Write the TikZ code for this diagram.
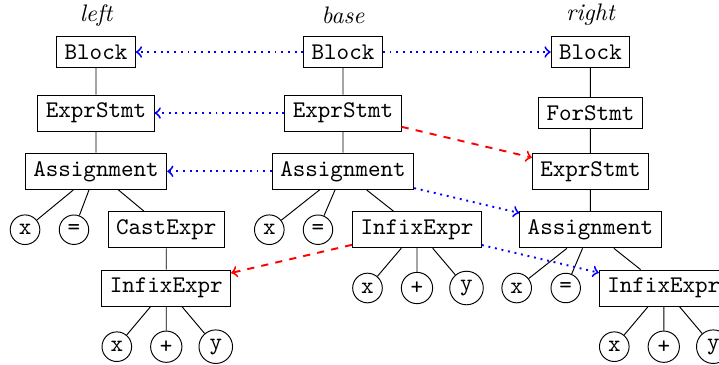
\documentclass[tikz,border=0pt]{standalone}

\begin{document}
\begin{tikzpicture}[
  ast/.style={draw,font=\ttfamily},
  leaf/.style={circle,draw,inner sep=2pt,font=\ttfamily},
  tag/.style={font=\itshape},
  same/.style={->,blue,thick,dotted},
  move/.style={->,red,thick,dashed}
]
  \clip (0,0) rectangle (10.573,-5.367);
  % left tree
  \node[tag] (lTag) at (1.412,-0.221) {left};
  \node[ast] (lBlock) at (1.412,-0.765) {Block};
  \node[ast] (lExpr) at (1.412,-1.662) {ExprStmt};
  \node[ast] (lAssign) at (1.412,-2.519) {Assignment};
  \node[leaf] (lX) at (0.368,-3.378) {x};
  \node[leaf] (lEq) at (1.088,-3.378) {=};
  \node[ast] (lCast) at (2.445,-3.378) {CastExpr};
  \node[ast] (lInfix) at (2.445,-4.235) {InfixExpr};
  \node[leaf] (lInfX) at (1.718,-5.098) {x};
  \node[leaf] (lPlus) at (2.445,-5.098) {+};
  \node[leaf] (lY) at (3.173,-5.098) {y};
  \draw (lBlock) -- (lExpr) (lExpr) -- (lAssign)
        (lAssign) -- (lX) (lAssign) -- (lEq) (lAssign) -- (lCast)
        (lCast) -- (lInfix)
        (lInfix) -- (lInfX) (lInfix) -- (lPlus) (lInfix) -- (lY);

  % base tree
  \node[tag] (bTag) at (5.044,-0.221) {base};
  \node[ast] (bBlock) at (5.044,-0.765) {Block};
  \node[ast] (bExpr) at (5.044,-1.662) {ExprStmt};
  \node[ast] (bAssign) at (5.044,-2.519) {Assignment};
  \node[leaf] (bX) at (3.960,-3.378) {x};
  \node[leaf] (bEq) at (4.676,-3.378) {=};
  \node[ast] (bInfix) at (6.132,-3.378) {InfixExpr};
  \node[leaf] (bInfX) at (5.404,-4.235) {x};
  \node[leaf] (bPlus) at (6.132,-4.235) {+};
  \node[leaf] (bY) at (6.860,-4.235) {y};
  \draw (bBlock) -- (bExpr) (bExpr) -- (bAssign)
        (bAssign) -- (bX) (bAssign) -- (bEq) (bAssign) -- (bInfix)
        (bInfix) -- (bInfX) (bInfix) -- (bPlus) (bInfix) -- (bY);

  % right tree
  \node[tag] (rTag) at (8.683,-0.221) {right};
  \node[ast] (rBlock) at (8.683,-0.765) {Block};
  \node[ast] (rFor) at (8.683,-1.662) {ForStmt};
  \node[ast] (rExpr) at (8.683,-2.519) {ExprStmt};
  \node[ast] (rAssign) at (8.683,-3.378) {Assignment};
  \node[leaf] (rX) at (7.598,-4.235) {x};
  \node[leaf] (rEq) at (8.319,-4.235) {=};
  \node[ast] (rInfix) at (9.761,-4.235) {InfixExpr};
  \node[leaf] (rInfX) at (9.033,-5.098) {x};
  \node[leaf] (rPlus) at (9.761,-5.098) {+};
  \node[leaf] (rY) at (10.489,-5.098) {y};
  \draw (rBlock) -- (rFor) (rFor) -- (rExpr) (rExpr) -- (rAssign)
        (rAssign) -- (rX) (rAssign) -- (rEq) (rAssign) -- (rInfix)
        (rInfix) -- (rInfX) (rInfix) -- (rPlus) (rInfix) -- (rY);

  % mappings
  \draw[same] (bBlock) -- (lBlock);
  \draw[same] (bBlock) -- (rBlock);
  \draw[same] (bExpr) -- (lExpr);
  \draw[move] (bExpr) -- (rExpr);
  \draw[same] (bAssign) -- (lAssign);
  \draw[same] (bAssign) -- (rAssign);
  \draw[move] (bInfix) -- (lInfix);
  \draw[same] (bInfix) -- (rInfix);
\end{tikzpicture}
\end{document}
